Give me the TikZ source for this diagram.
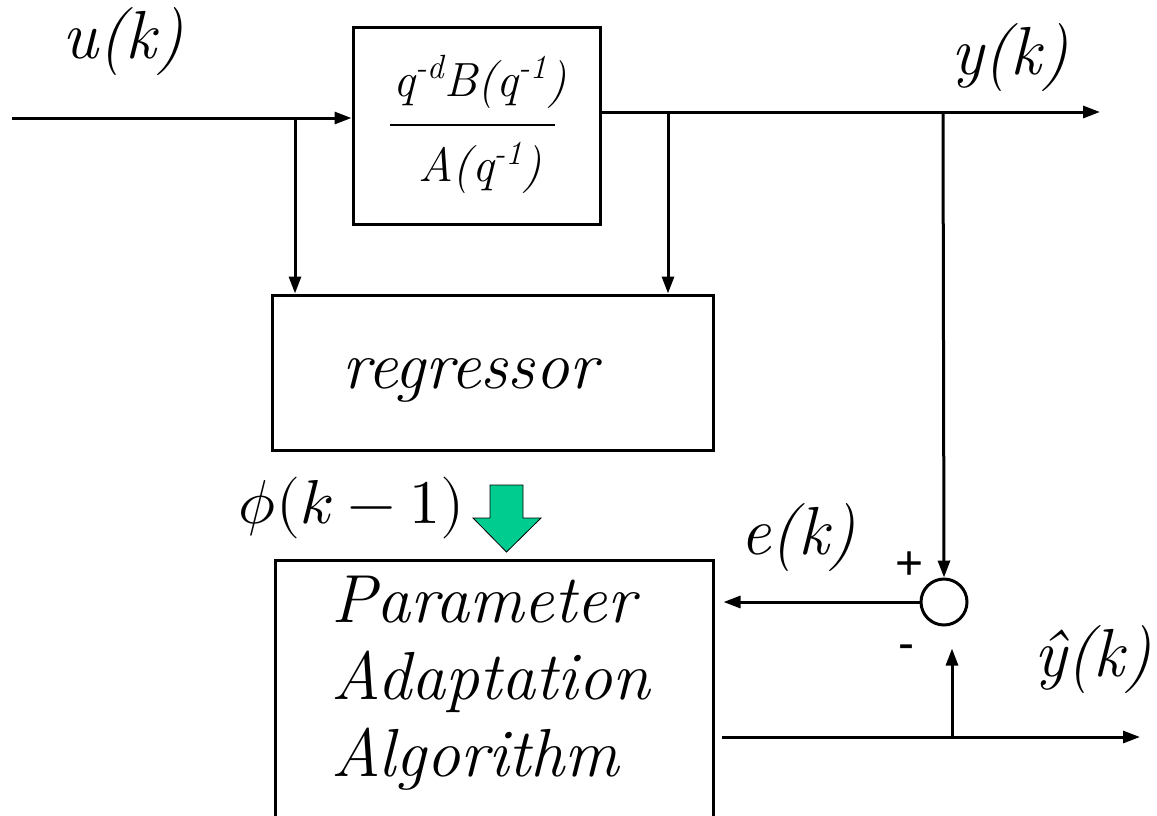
\documentclass[tikz,border=0pt]{standalone}
\usepackage{fontspec}
\usepackage{unicode-math}
\newfontfamily\sgnfont{Liberation Sans}
\usetikzlibrary{arrows.meta}
\definecolor{regteal}{RGB}{0,204,143}
\tikzset{
  blk/.style={draw, line width=3pt, inner sep=0pt},
  arr/.style={-{Triangle[length=17pt,width=12pt]}, line width=3pt},
  sig/.style={font=\fontsize{68}{72}\selectfont\itshape},
  txt/.style={font=\fontsize{68}{77}\selectfont\itshape},
  tf/.style={font=\fontsize{48}{52}\selectfont\itshape, inner sep=0pt},
  sgn/.style={font=\fontsize{48}{50}\selectfont\sgnfont},
}
\begin{document}
\begin{tikzpicture}[x=1pt,y=-1pt]
  \useasboundingbox (0,0) rectangle (1157,815);
  % blocks
  \node[blk, minimum width=247pt, minimum height=197pt] (plant) at (476.5,125.5) {};
  \node[tf] (tfnum) at (480,82) {q\textsuperscript{-d}B(q\textsuperscript{-1})};
  \node[tf] (tfden) at (480,168) {A(q\textsuperscript{-1})};
  \draw[line width=2pt] (390,125) -- (555,125);
  \node[blk, minimum width=441pt, minimum height=155pt] (reg) at (492.5,372.5) {};
  \node[txt] (regtxt) at (470,380) {regressor};
  \node[blk, minimum width=438pt, minimum height=320pt] (paa) at (494,720) {};
  \node[txt, align=left, anchor=west] (paatxt) at (328,683) {Parameter\\Adaptation\\Algorithm};
  \node[draw, circle, line width=3pt, minimum size=46pt, inner sep=0pt] (sum) at (944,602) {};
  \draw[fill=regteal, line width=0.8pt] (490,485) -- (523,485) -- (523,518) -- (541,518)
    -- (506.5,552) -- (473,518) -- (490,518) -- cycle;
  % signals
  \coordinate (uin) at (12,118);
  \coordinate (utap) at (295,118);
  \coordinate (yout) at (1100,112);
  \coordinate (ytap1) at (668,112);
  \coordinate (ytap2) at (943,112);
  \coordinate (yhin) at (722,737);
  \coordinate (yhout) at (1140,737);
  \coordinate (yhtap) at (952,737);
  \draw[arr] (uin) -- (uin -| plant.west);
  \draw[arr] (utap) -- (utap |- reg.north);
  \draw[arr] (yout -| plant.east) -- (yout);
  \draw[arr] (ytap1) -- (ytap1 |- reg.north);
  \draw[arr] (ytap2) -- (sum.north);
  \draw[arr, shorten >=9pt] (sum.west) -- (sum.west -| paa.east);
  \draw[arr] (yhin) -- (yhout);
  \draw[arr, shorten >=22pt] (yhtap) -- (yhtap |- sum.south);
  % labels
  \node[sig] (ulbl) at (123,42) {u(k)};
  \node[sig] (ylbl) at (1010,58) {y(k)};
  \node[sig] (elbl) at (798,538) {e(k)};
  \node[sig] (yhlbl) at (1093,660) {\^{y}(k)};
  \node[font=\fontsize{62}{64}\selectfont, anchor=east] (philbl) at (468,508) {$\phi(k-1)$};
  \node[sgn] (plus) at (910,566) {+};
  \node[sgn] (minus) at (906,652) {-};
\end{tikzpicture}
\end{document}
